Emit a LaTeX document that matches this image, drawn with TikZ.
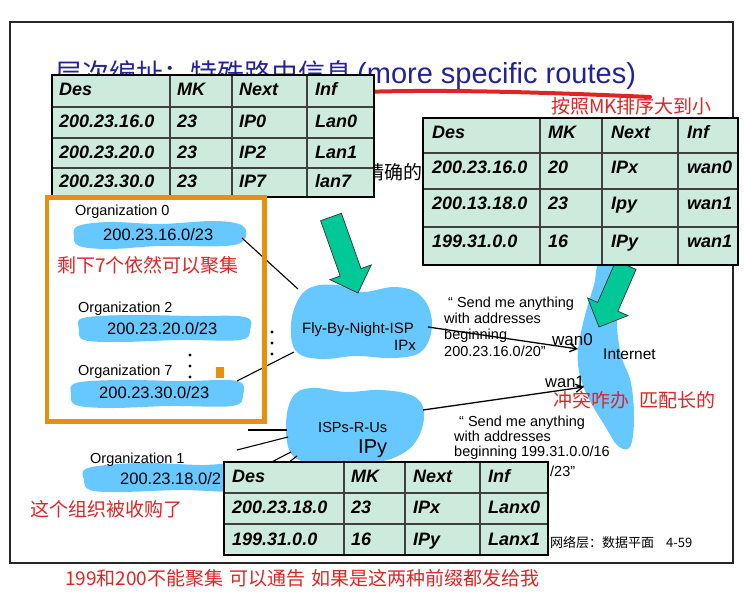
\documentclass[tikz,border=0pt]{standalone}
\usepackage{fontspec}
\setmainfont{Liberation Sans}
\newfontfamily\cjk{Noto Sans CJK SC}
\usetikzlibrary{arrows.meta}

\definecolor{tablefill}{HTML}{CDEBDD}
\definecolor{cloudblue}{HTML}{66C8FF}
\definecolor{boxorange}{HTML}{E8900C}
\definecolor{arrowgreen}{HTML}{00C896}
\definecolor{notered}{HTML}{E02424}
\definecolor{titleblue}{HTML}{22229A}

\tikzset{
  frameline/.style={line width=2.6pt, draw=black!85},
  cloudfill/.style={fill=cloudblue},
  link/.style={line width=1.1pt, draw=black},
  advert/.style={line width=1.3pt, draw=black, -{Straight Barb[length=7pt,width=8pt]}},
  bigarrow/.style={fill=arrowgreen, draw=black!80, line width=0.7pt, line join=miter},
  tabcell/.style={anchor=base west, inner sep=0pt, font=\fontsize{18}{18}\selectfont\bfseries\itshape},
  tabfill/.style={fill=tablefill},
  tabgrid/.style={line width=1.3pt, draw=black!75},
  tabframe/.style={line width=2.2pt, draw=black},
  lbl/.style={anchor=base west, inner sep=0pt},
  adtext/.style={lbl, font=\fontsize{14.5}{14.5}\selectfont},
  orgname/.style={lbl, font=\fontsize{14.5}{14.5}\selectfont},
  orgprefix/.style={lbl, font=\fontsize{16.5}{16.5}\selectfont},
  redcjk/.style={lbl, text=notered, font=\cjk\fontsize{19}{19}\selectfont},
  blackdot/.style={fill=black},
}

\begin{document}
\begin{tikzpicture}[x=1pt, y=-1pt]
\useasboundingbox (0,0) rectangle (745,601);

% slide frame
\draw[frameline] (10,22) rectangle (733,563);

% title and its red underline stroke
\node[lbl, text=titleblue, font=\cjk\fontsize{27}{27}\selectfont] (titlecn) at (55,84) {层次编址：特殊路由信息};
\node[lbl, text=titleblue, font=\fontsize{29}{29}\selectfont] (titleen) at (357,84) {(more specific routes)};
\draw[notered, line width=4pt, line cap=round] (362,92) .. controls (450,89) and (560,93) .. (650,97);

% text partly hidden behind the routing tables
\node[anchor=base east, inner sep=0pt, font=\cjk\fontsize{19}{19}\selectfont] (precise) at (423,180) {精确的};

% ISP clouds and the Internet
\fill[cloudfill] plot[smooth cycle, tension=0.65] coordinates {
  (298,300) (312,287) (337,285) (362,292) (396,287) (421,296) (432,322)
  (423,350) (396,358) (356,356) (320,359) (296,351) (291,325)};
\fill[cloudfill] plot[smooth cycle, tension=0.65] coordinates {
  (292,398) (311,388) (346,392) (381,390) (413,396) (424,412) (418,438)
  (400,455) (370,463) (320,463) (293,456) (286,428)};
\fill[cloudfill] plot[smooth cycle, tension=0.6] coordinates {
  (600,262) (625,262) (621,292) (617,322) (621,355) (631,383) (634,420)
  (630,447) (618,446) (605,426) (590,401) (580,376) (578,350) (585,315) (594,285)};

% address blocks of the organizations
\fill[cloudfill] plot[smooth cycle, tension=0.6] coordinates {
  (78,226) (110,222) (160,224) (215,221) (243,226) (244,240) (225,246)
  (160,246) (110,249) (79,246) (74,236)};
\fill[cloudfill] plot[smooth cycle, tension=0.6] coordinates {
  (83,318) (130,315) (190,316) (245,317) (250,330) (240,340) (180,340)
  (120,342) (84,340) (79,329)};
\fill[cloudfill] plot[smooth cycle, tension=0.6] coordinates {
  (76,383) (120,380) (180,381) (237,381) (243,395) (232,406) (170,406)
  (110,408) (76,405) (71,394)};
\fill[cloudfill] plot[smooth cycle, tension=0.6] coordinates {
  (88,468) (140,463) (200,465) (245,465) (246,490) (180,490) (120,492)
  (90,490) (84,480)};

% access links
\coordinate (org0) at (242,238);  \coordinate (fbnA) at (298,289);
\coordinate (org7) at (237,381);  \coordinate (fbnB) at (294,352);
\draw[link] (org0) -- (fbnA);
\draw[link] (org7) -- (fbnB);
\coordinate (ispA) at (287,430);  \coordinate (linkA) at (248,430);
\coordinate (ispB) at (288,437);  \coordinate (linkB) at (237,450);
\coordinate (ispC) at (291,452);  \coordinate (linkC) at (262,467);
\coordinate (ispD) at (297,456);  \coordinate (linkD) at (280,469);
\draw[link] (linkA) -- (ispA);
\draw[link] (linkB) -- (ispB);
\draw[link] (linkC) -- (ispC);
\draw[link] (linkD) -- (ispD);

% route advertisements towards the Internet
\coordinate (fbnOut) at (428,327);  \coordinate (wan0in) at (578,349);
\coordinate (ispOut) at (423,410);  \coordinate (wan1in) at (584,387);
\draw[advert] (fbnOut) -- (wan0in);
\draw[advert] (ispOut) -- (wan1in);

% big green arrows from the tables
\draw[bigarrow] (341.4,213.3) -- (361,268.6) -- (371.3,264.9) -- (358,293)
  -- (329.9,279.7) -- (340.2,276) -- (320.6,220.7) -- cycle;
\draw[bigarrow] (636.1,269.4) -- (617.9,311.2) -- (628,315.6) -- (599,327)
  -- (587.6,298) -- (597.7,302.4) -- (615.9,260.6) -- cycle;

% routing table of the first router
\fill[tabfill] (52,75) rectangle (374,197);
\draw[tabgrid] (170,75) -- (170,197) (232,75) -- (232,197) (307,75) -- (307,197)
  (52,107) -- (374,107) (52,138) -- (374,138) (52,168) -- (374,168);
\draw[tabframe] (52,75) rectangle (374,197);
\node[tabcell] (a00) at (59,96) {Des};
\node[tabcell] (a01) at (177,96) {MK};
\node[tabcell] (a02) at (239,96) {Next};
\node[tabcell] (a03) at (315,96) {Inf};
\node[tabcell] (a10) at (59,128) {200.23.16.0};
\node[tabcell] (a11) at (177,128) {23};
\node[tabcell] (a12) at (239,128) {IP0};
\node[tabcell] (a13) at (315,128) {Lan0};
\node[tabcell] (a20) at (59,159) {200.23.20.0};
\node[tabcell] (a21) at (177,159) {23};
\node[tabcell] (a22) at (239,159) {IP2};
\node[tabcell] (a23) at (315,159) {Lan1};
\node[tabcell] (a30) at (59,188) {200.23.30.0};
\node[tabcell] (a31) at (177,188) {23};
\node[tabcell] (a32) at (239,188) {IP7};
\node[tabcell] (a33) at (315,188) {lan7};

% routing table of the Internet router
\fill[tabfill] (423,118) rectangle (738,265);
\draw[tabgrid] (540,118) -- (540,265) (602,118) -- (602,265) (678,118) -- (678,265)
  (423,153) -- (738,153) (423,189) -- (738,189) (423,227) -- (738,227);
\draw[tabframe] (423,118) rectangle (738,265);
\node[tabcell] (b00) at (432,139) {Des};
\node[tabcell] (b01) at (548,139) {MK};
\node[tabcell] (b02) at (611,139) {Next};
\node[tabcell] (b03) at (687,139) {Inf};
\node[tabcell] (b10) at (432,174) {200.23.16.0};
\node[tabcell] (b11) at (548,174) {20};
\node[tabcell] (b12) at (611,174) {IPx};
\node[tabcell] (b13) at (687,174) {wan0};
\node[tabcell] (b20) at (432,210) {200.13.18.0};
\node[tabcell] (b21) at (548,210) {23};
\node[tabcell] (b22) at (611,210) {Ipy};
\node[tabcell] (b23) at (687,210) {wan1};
\node[tabcell] (b30) at (432,248) {199.31.0.0};
\node[tabcell] (b31) at (548,248) {16};
\node[tabcell] (b32) at (611,248) {IPy};
\node[tabcell] (b33) at (687,248) {wan1};

% routing table of ISPs-R-Us
\fill[tabfill] (224,462) rectangle (548,555);
\draw[tabgrid] (344,462) -- (344,555) (405,462) -- (405,555) (480,462) -- (480,555)
  (224,493) -- (548,493) (224,524) -- (548,524);
\draw[tabframe] (224,462) rectangle (548,555);
\node[tabcell] (c00) at (232,483) {Des};
\node[tabcell] (c01) at (351,483) {MK};
\node[tabcell] (c02) at (413,483) {Next};
\node[tabcell] (c03) at (488,483) {Inf};
\node[tabcell] (c10) at (232,514) {200.23.18.0};
\node[tabcell] (c11) at (351,514) {23};
\node[tabcell] (c12) at (413,514) {IPx};
\node[tabcell] (c13) at (488,514) {Lanx0};
\node[tabcell] (c20) at (232,546) {199.31.0.0};
\node[tabcell] (c21) at (351,546) {16};
\node[tabcell] (c22) at (413,546) {IPy};
\node[tabcell] (c23) at (488,546) {Lanx1};

% the seven organizations that still aggregate
\draw[draw=boxorange, line width=4.5pt] (47,197.5) rectangle (264.5,421.5);
\fill[boxorange] (216,367) rectangle (224,378);
\node[orgname] (org0name) at (75,216) {Organization 0};
\node[orgprefix] (org0pre) at (103,241) {200.23.16.0/23};
\node[orgname] (org2name) at (78,313) {Organization 2};
\node[orgprefix] (org2pre) at (107,335) {200.23.20.0/23};
\node[orgname] (org7name) at (78,376) {Organization 7};
\node[orgprefix] (org7pre) at (99,399) {200.23.30.0/23};
\node[orgname] (org1name) at (90,464) {Organization 1};
\node[orgprefix] (org1pre) at (120,485) {200.23.18.0/2};
\foreach \y in {355,366,377} \fill[blackdot] (190,\y) circle (1.6);
\foreach \y in {332,343,354} \fill[blackdot] (272,\y) circle (1.6);

% router and network labels
\node[lbl, font=\fontsize{15}{15}\selectfont] (fbn) at (302,334) {Fly-By-Night-ISP};
\node[lbl, font=\fontsize{15}{15}\selectfont] (ipx) at (394,351) {IPx};
\node[lbl, font=\fontsize{14.6}{14.6}\selectfont] (isp) at (318,433) {ISPs-R-Us};
\node[lbl, font=\fontsize{20}{20}\selectfont] (ipy) at (358,454) {IPy};
\node[lbl, font=\fontsize{15.5}{15.5}\selectfont] (internet) at (603,360) {Internet};
\node[lbl, font=\fontsize{17}{17}\selectfont] (wan0) at (552,346) {wan0};
\node[lbl, font=\fontsize{16.5}{16.5}\selectfont] (wan1) at (545,388) {wan1};

% advertised prefixes
\node[adtext] (q1a) at (448,308) {“ Send me anything};
\node[adtext] (q1b) at (444,324) {with addresses};
\node[adtext] (q1c) at (444,340) {beginning};
\node[adtext] (q1d) at (444,357) {200.23.16.0/20"};
\node[adtext] (q2a) at (459,427) {“ Send me anything};
\node[adtext] (q2b) at (454,442) {with addresses};
\node[adtext] (q2c) at (454,457) {beginning 199.31.0.0/16};
\node[adtext] (q2d) at (550,477) {/23"};

% slide footer
\node[lbl, font=\cjk\fontsize{13}{13}\selectfont] (footer) at (550,548) {网络层：数据平面\hspace{12pt}4-59};

% handwritten notes
\node[redcjk] (noteSort) at (551,114) {按照MK排序大到小};
\node[redcjk] (noteAgg) at (57,273) {剩下7个依然可以聚集};
\node[redcjk] (noteConflict) at (553,408) {冲突咋办\hspace{10pt}匹配长的};
\node[redcjk] (noteBought) at (30,517) {这个组织被收购了};
\node[redcjk] (noteBottom) at (65,586) {199和200不能聚集\hspace{6pt}可以通告\hspace{6pt}如果是这两种前缀都发给我};
\end{tikzpicture}
\end{document}
